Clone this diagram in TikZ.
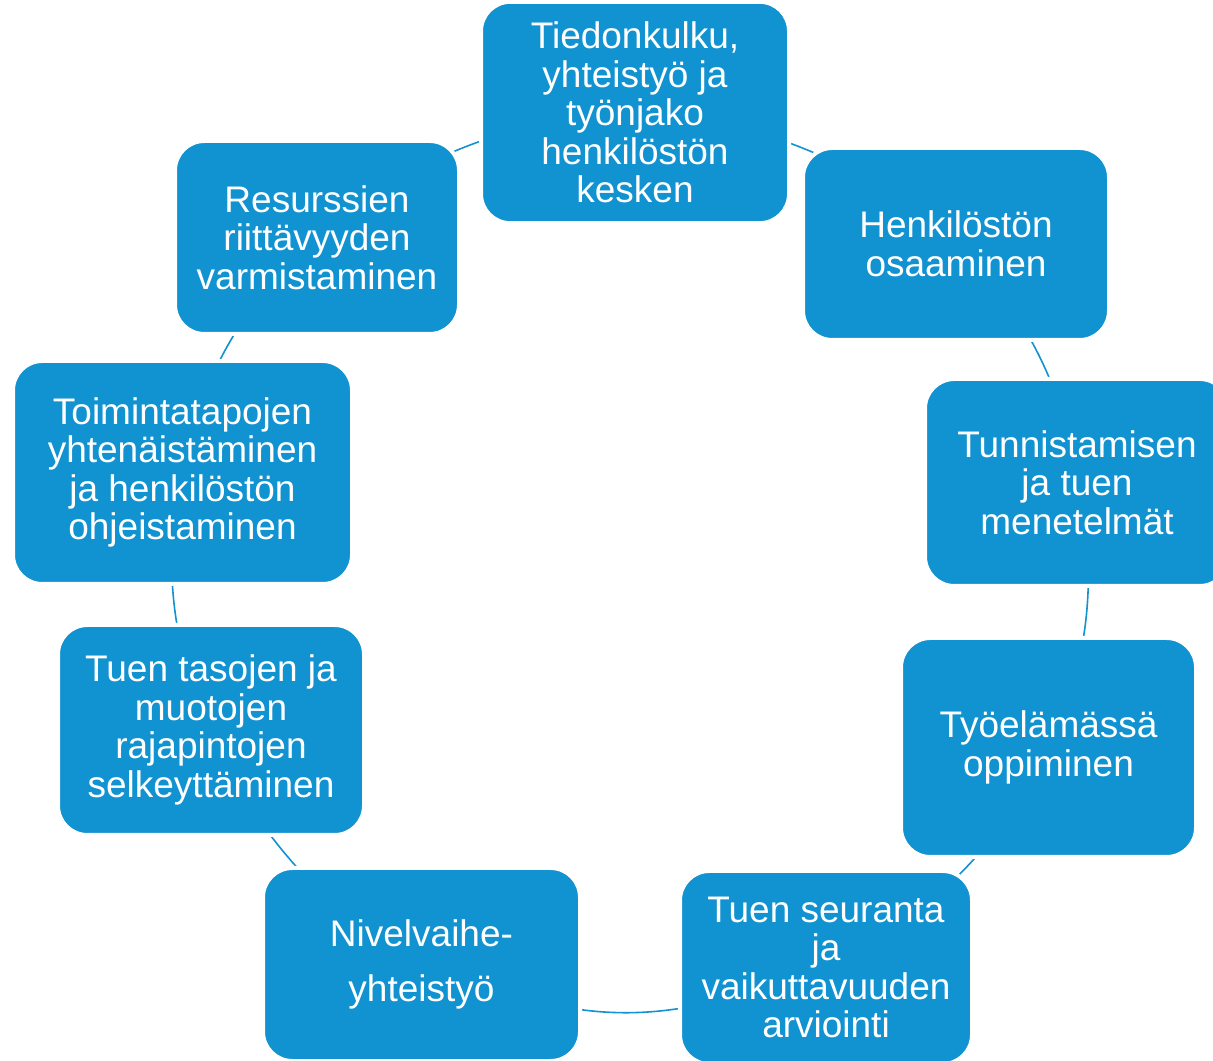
\documentclass[tikz,border=0pt]{standalone}
\usepackage{fontspec}
\setmainfont{Liberation Sans}
\usetikzlibrary{backgrounds}
\definecolor{cycleblue}{HTML}{1192D1}

\begin{document}
\begin{tikzpicture}[
    x=0.75pt, y=0.75pt,
    every node/.style={font=\fontsize{27.75}{28.9}\selectfont},
    stage/.style={rectangle, rounded corners=22pt, fill=cycleblue, draw=white,
                  line width=3pt, text=white, align=center, inner sep=3pt},
    cyclelink/.style={draw=cycleblue, line width=1.2pt, bend left=20, looseness=0.88},
]
\useasboundingbox (0,0) rectangle (1213,1060);
\clip (0,0) rectangle (1213,1060);

% Stages of the cycle, clockwise from the top
\node[stage, minimum width=231pt, minimum height=166pt] (info) at (635,947.5)
  {Tiedonkulku,\\yhteistyö ja\\työnjako\\henkilöstön\\kesken};
\node[stage, minimum width=229.5pt, minimum height=144pt] (skills) at (956,816)
  {Henkilöstön\\osaaminen};
\node[stage, minimum width=228pt, minimum height=155.25pt] (methods) at (1077,577.5)
  {Tunnistamisen\\ja tuen\\menetelmät};
\node[stage, minimum width=221.25pt, minimum height=164.25pt] (worklife) at (1048.5,312.5)
  {Työelämässä\\oppiminen};
\node[stage, minimum width=219pt, minimum height=144.75pt] (followup) at (826,92.5)
  {Tuen seuranta\\ja\\vaikuttavuuden\\arviointi};
\node[stage, minimum width=237.75pt, minimum height=144.75pt,
      font=\fontsize{27.75}{41.3}\selectfont] (transition) at (421.5,95.5)
  {Nivelvaihe-\\yhteistyö};
\node[stage, minimum width=229.5pt, minimum height=157.5pt] (levels) at (211,330)
  {Tuen tasojen ja\\muotojen\\rajapintojen\\selkeyttäminen};
\node[stage, minimum width=254.25pt, minimum height=167.25pt] (practices) at (182.5,587.5)
  {Toimintatapojen\\yhtenäistäminen\\ja henkilöstön\\ohjeistaminen};
\node[stage, minimum width=213pt, minimum height=144.75pt] (resources) at (317,822.5)
  {Resurssien\\riittävyyden\\varmistaminen};

% Cycle arcs behind the boxes
\begin{scope}[on background layer]
\draw[cyclelink] (info.center) to (skills.center);
\draw[cyclelink] (skills.center) to (methods.center);
\draw[cyclelink] (methods.center) to (worklife.center);
\draw[cyclelink] (worklife.center) to (followup.center);
\draw[cyclelink, looseness=1.15] (followup.center) to (transition.center);
\draw[cyclelink] (transition.center) to (levels.center);
\draw[cyclelink] (levels.center) to (practices.center);
\draw[cyclelink] (practices.center) to (resources.center);
\draw[cyclelink] (resources.center) to (info.center);
\end{scope}

\end{tikzpicture}
\end{document}
